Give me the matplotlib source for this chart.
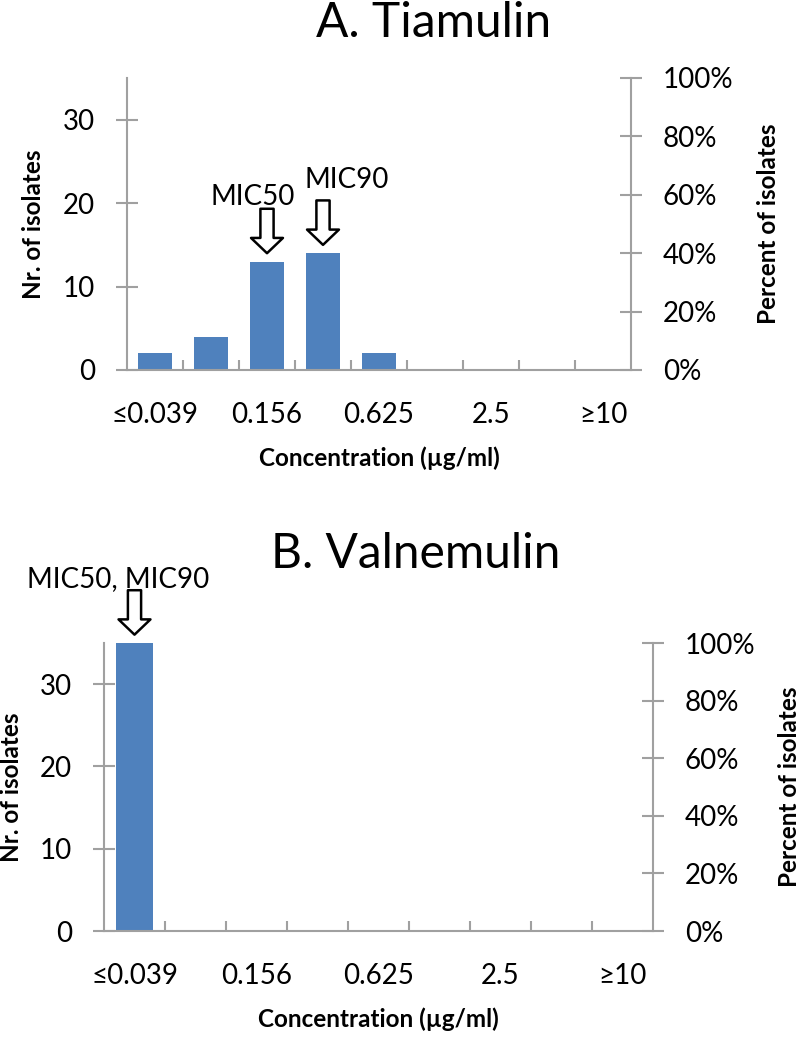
import numpy as np
import matplotlib
matplotlib.use("Agg")
import matplotlib.pyplot as plt
from matplotlib.ticker import FuncFormatter
from matplotlib.transforms import offset_copy

plt.rcParams['font.family'] = ['Lato', 'DejaVu Sans']

# data
concentrations = ["≤0.039", "0.078", "0.156", "0.313", "0.625", "1.25", "2.5", "5", "≥10"]
tiamulin_counts = [2, 4, 13, 14, 2, 0, 0, 0, 0]
valnemulin_counts = [35, 0, 0, 0, 0, 0, 0, 0, 0]
tiamulin_mic50 = "0.156"
tiamulin_mic90 = "0.313"
valnemulin_mic50_90 = "≤0.039"
count_ticks = [0, 10, 20, 30]
percent_ticks = [0, 0.2, 0.4, 0.6, 0.8, 1.0]
count_max = 35

BAR = '#4f81bd'
GREY = '#a0a0a0'
W, H = 800, 1039

fig = plt.figure(figsize=(W / 100, H / 100), dpi=100)


def rect(left, right, top, bottom):
    return [left / W, 1 - bottom / H, (right - left) / W, (bottom - top) / H]


def panel(box, counts, left_lab_x, right_lab_x):
    ax = fig.add_axes(box)
    x = np.arange(len(concentrations))
    ax.bar(x, counts, width=0.62, color=BAR, zorder=2)
    ax.set_xlim(-0.5, len(concentrations) - 0.5)
    ax.set_ylim(0, count_max)

    # x axis: labels every other category, tick marks between categories
    ax.set_xticks(x[::2])
    ax.set_xticklabels(concentrations[::2])
    ax.set_xticks(x[:-1] + 0.5, minor=True)
    ax.tick_params(axis='x', which='major', length=0, labelsize=20, pad=23)
    ax.tick_params(axis='x', which='minor', direction='in', length=7,
                   width=1.5, color=GREY)
    ax.set_xlabel('Concentration (µg/ml)', fontsize=17.5, fontweight='bold',
                  labelpad=13)

    ax.set_yticks(count_ticks)
    ax.tick_params(axis='y', direction='inout', length=16, width=1.5,
                   color=GREY, labelsize=20, pad=15)
    ax.set_ylabel('Nr. of isolates', fontsize=17.5, fontweight='bold', va='center')
    ax.yaxis.set_label_coords(left_lab_x, 0.5)

    for s in ('top', 'right'):
        ax.spines[s].set_visible(False)
    for s in ('left', 'bottom'):
        ax.spines[s].set_color(GREY)
        ax.spines[s].set_linewidth(1.5)

    ax2 = ax.twinx()
    ax2.set_ylim(0, 1)
    ax2.set_yticks(percent_ticks)
    ax2.yaxis.set_major_formatter(FuncFormatter(lambda v, p: f"{v:.0%}"))
    ax2.tick_params(axis='y', direction='inout', length=16, width=1.5,
                    color=GREY, labelsize=20, pad=15)
    ax2.set_ylabel('Percent of isolates', fontsize=17.5, fontweight='bold',
                   va='center', rotation=90)
    ax2.yaxis.set_label_coords(right_lab_x, 0.5)
    for s in ('top', 'left', 'bottom'):
        ax2.spines[s].set_visible(False)
    ax2.spines['right'].set_color(GREY)
    ax2.spines['right'].set_linewidth(1.5)
    return ax


def mic_arrow(ax, cat, counts, label, dx, dy):
    i = concentrations.index(cat)
    tip = offset_copy(ax.transData, fig=fig, y=6, units='points')
    ax.annotate('', xy=(i, counts[i]), xycoords=tip,
                xytext=(0, 32), textcoords='offset points',
                arrowprops=dict(arrowstyle='simple,head_length=11,head_width=23,tail_width=9.5',
                                mutation_scale=1, fc='white', ec='black', lw=1.8,
                                shrinkA=0, shrinkB=0),
                annotation_clip=False)
    ax.annotate(label, xy=(i, counts[i]), xytext=(dx, dy),
                textcoords='offset points', ha='center', va='baseline',
                fontsize=20, annotation_clip=False)


# A. Tiamulin
ax_a = panel(rect(127, 631, 78, 370), tiamulin_counts, -0.1865, 1.272)
mic_arrow(ax_a, tiamulin_mic50, tiamulin_counts, 'MIC50', -10, 41)
mic_arrow(ax_a, tiamulin_mic90, tiamulin_counts, 'MIC90', 17, 47)
fig.text(316 / W, 1 - 37 / H, 'A. Tiamulin', fontsize=34.5, ha='left', va='baseline')

# B. Valnemulin
ax_b = panel(rect(104, 653, 643, 931), valnemulin_counts, -0.1676, 1.2495)
mic_arrow(ax_b, valnemulin_mic50_90, valnemulin_counts, 'MIC50, MIC90', -12, 40)
fig.text(271 / W, 1 - 568 / H, 'B. Valnemulin', fontsize=34.5, ha='left', va='baseline')

fig.savefig('out.png', dpi=100)
